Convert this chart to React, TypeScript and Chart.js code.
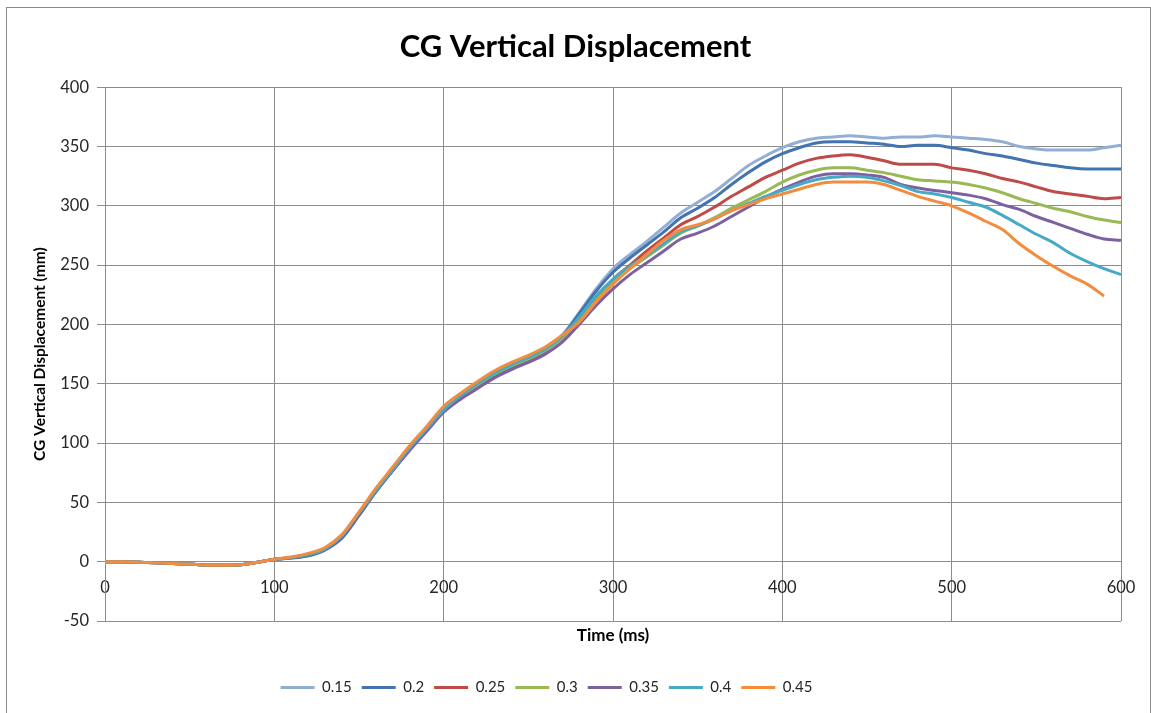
import React, { useEffect, useRef } from 'react';
import { Chart, registerables } from 'chart.js';

Chart.register(...registerables);

const TIMES = [
  0, 10, 20, 30, 40, 50, 60, 70, 80, 90, 100, 110, 120, 130, 140, 150, 160, 170, 180, 190,
  200, 210, 220, 230, 240, 250, 260, 270, 280, 290, 300, 310, 320, 330, 340, 350, 360, 370, 380, 390,
  400, 410, 420, 430, 440, 450, 460, 470, 480, 490, 500, 510, 520, 530, 540, 550, 560, 570, 580, 590, 600,
];

const LABELS = ['0.15', '0.2', '0.25', '0.3', '0.35', '0.4', '0.45'];

const S015 = [
  0, 0, -0.5, -1, -1.5, -2, -3, -3, -2.5, -0.5, 2, 3, 5, 10, 20, 39, 59, 77, 95, 111,
  127, 138, 148, 156, 163, 170, 178, 191, 210, 230, 247, 259, 270, 282, 294, 303, 312, 323, 334, 342,
  349, 354, 357, 358, 359, 358, 357, 358, 358, 359, 358, 357, 356, 354, 350, 348, 347, 347, 347, 349, 351,
];
const S020 = [
  0, 0, -0.5, -1, -1.5, -2, -3, -3, -2.5, -0.5, 2, 3, 5, 10, 20, 39, 59, 77, 95, 111,
  127, 138, 148, 157, 164, 170, 178, 190, 209, 228, 244, 256, 267, 278, 290, 298, 307, 318, 328, 337,
  344, 349, 353, 354, 354, 353, 352, 350, 351, 351, 349, 347, 344, 342, 339, 336, 334, 332, 331, 331, 331,
];
const S025 = [
  0, 0, -0.5, -1, -1.5, -2, -3, -3, -2.5, -0.5, 2, 3.5, 6, 11, 21, 40, 60, 78, 96, 112,
  128, 139, 149, 158, 165, 171, 178, 189, 205, 222, 238, 250, 262, 273, 284, 291, 299, 308, 316, 324,
  330, 336, 340, 342, 343, 341, 338, 335, 335, 335, 332, 330, 327, 323, 320, 316, 312, 310, 308, 306, 307,
];
const S030 = [
  0, 0, -0.5, -1, -1.5, -2, -3, -3, -2.5, -0.5, 2, 3.5, 6, 11, 22, 41, 60, 78, 96, 112,
  128, 139, 149, 158, 165, 171, 178, 188, 203, 220, 235, 247, 257, 267, 277, 283, 290, 298, 305, 312,
  320, 326, 330, 332, 332, 330, 328, 325, 322, 321, 320, 318, 315, 311, 306, 302, 298, 295, 291, 288, 286,
];
const S035 = [
  0, 0, -0.5, -1, -1.5, -2, -3, -3, -2.5, -0.5, 2, 3.5, 6, 11, 21, 40, 59, 77, 94, 110,
  126, 137, 146, 155, 162, 168, 175, 185, 200, 216, 230, 242, 252, 262, 272, 277, 283, 291, 299, 307,
  314, 320, 325, 327, 327, 326, 324, 318, 315, 313, 311, 309, 306, 301, 297, 291, 286, 281, 276, 272, 271,
];
const S040 = [
  0, 0, -0.5, -1, -1.5, -2, -3, -3, -2.5, -0.5, 2, 3.5, 6, 11, 22, 41, 60, 78, 96, 112,
  128, 140, 150, 159, 166, 172, 179, 190, 206, 224, 238, 249, 258, 268, 278, 283, 289, 296, 302, 308,
  313, 318, 322, 324, 325, 324, 321, 317, 312, 310, 307, 303, 299, 292, 284, 276, 269, 260, 253, 247, 242,
];
const S045 = [
  0, 0, -0.5, -1, -1.5, -2, -3, -3, -2.5, -0.5, 2, 4, 7, 12, 23, 42, 62, 80, 98, 114,
  131, 142, 152, 161, 168, 174, 181, 191, 202, 219, 234, 247, 259, 271, 280, 284, 289, 296, 301, 306,
  310, 314, 318, 320, 320, 320, 318, 313, 308, 304, 300, 294, 287, 280, 268, 258, 249, 241, 234, 224, null,
];

const SERIES = [S015, S020, S025, S030, S035, S040, S045];
const COLORS = ['#93AED4', '#4274B0', '#BE4B48', '#98B954', '#7D60A0', '#46AAC5', '#F28D3F'];

const Y_TICKS = [-50, 0, 50, 100, 150, 200, 250, 300, 350, 400];
const X_TICKS = [0, 100, 200, 300, 400, 500, 600];

const FONT = 'Lato, "Open Sans", sans-serif';
const GRID = '#8c8c8c';
const TEXT = '#262626';

// Small horizontal nudges of the title and legend blocks (Excel centres them differently)
const blockNudge = {
  id: 'blockNudge',
  afterLayout(chart: any) {
    const t = chart.titleBlock;
    if (t) {
      t.left += 15;
      t.right += 15;
    }
    const l = chart.legend;
    if (l) {
      l.left -= 14;
      l.right -= 14;
    }
  },
};

export default function App() {
  const ref = useRef<HTMLCanvasElement>(null);

  useEffect(() => {
    const canvas = ref.current;
    if (!canvas) return;
    const datasets = SERIES.map((vals, i) => ({
      label: LABELS[i],
      data: TIMES.map((t, j) => ({ x: t, y: vals[j] })),
      borderColor: COLORS[i],
      backgroundColor: COLORS[i],
      borderWidth: 3,
      pointRadius: 0,
      pointStyle: 'line',
      cubicInterpolationMode: 'monotone',
      fill: false,
      order: SERIES.length - i,
    }));

    const chart = new Chart(canvas, {
      type: 'line',
      data: { datasets } as any,
      plugins: [blockNudge],
      options: {
        animation: false,
        responsive: false,
        devicePixelRatio: 1,
        layout: { padding: { left: 0, right: 30, top: 0, bottom: 8 } },
        plugins: {
          title: {
            display: true,
            text: 'CG Vertical Displacement',
            color: '#000',
            font: { family: FONT, size: 31, weight: 'bold' },
            padding: { top: 28, bottom: 22 },
          },
          legend: {
            position: 'bottom',
            labels: {
              usePointStyle: true,
              pointStyle: 'line',
              pointStyleWidth: 34,
              boxHeight: 3,
              padding: 10,
              color: TEXT,
              font: { family: FONT, size: 15 },
              sort: (a: any, b: any) => a.datasetIndex - b.datasetIndex,
            },
          },
          tooltip: { enabled: false },
        },
        scales: {
          x: {
            type: 'linear',
            position: { y: 0 } as any,
            min: 0,
            max: 600,
            afterBuildTicks: (s: any) => {
              s.ticks = X_TICKS.map((v) => ({ value: v }));
            },
            ticks: { padding: 8, color: TEXT, font: { family: FONT, size: 16.5 } },
            grid: { color: GRID, tickLength: 8 },
            border: { color: GRID },
          },
          x2: {
            type: 'linear',
            position: 'bottom',
            display: true,
            min: 0,
            max: 600,
            ticks: { display: false },
            grid: { display: false, drawTicks: false },
            border: { display: false },
            title: {
              display: true,
              text: 'Time (ms)',
              color: '#000',
              font: { family: FONT, size: 17, weight: 'bold' },
              padding: { top: 4, bottom: 24.6 },
            },
          },
          y: {
            type: 'linear',
            position: 'left',
            min: -50,
            max: 400,
            afterBuildTicks: (s: any) => {
              s.ticks = Y_TICKS.map((v) => ({ value: v }));
            },
            afterFit: (s: any) => {
              s.width = 105;
            },
            ticks: { padding: 8, color: TEXT, font: { family: FONT, size: 16.5 } },
            grid: { color: GRID, tickLength: 8 },
            border: { color: GRID },
            title: {
              display: true,
              text: 'CG Vertical Displacement (mm)',
              color: '#000',
              font: { family: FONT, size: 15.5, weight: 'bold' },
              padding: { top: 30.7, bottom: 0 },
            },
          },
        },
      } as any,
    });
    return () => chart.destroy();
  }, []);

  return (
    <div style={{ position: 'fixed', left: 0, top: 0, width: 1151, height: 713, overflow: 'hidden', background: '#fff' }}>
      <div
        style={{
          position: 'absolute',
          left: 6,
          top: 7,
          width: 1143,
          height: 800,
          border: '1px solid #8c8c8c',
        }}
      />
      <canvas ref={ref} width={1151} height={713} style={{ position: 'absolute', left: 0, top: 0, display: 'block' }} />
    </div>
  );
}
